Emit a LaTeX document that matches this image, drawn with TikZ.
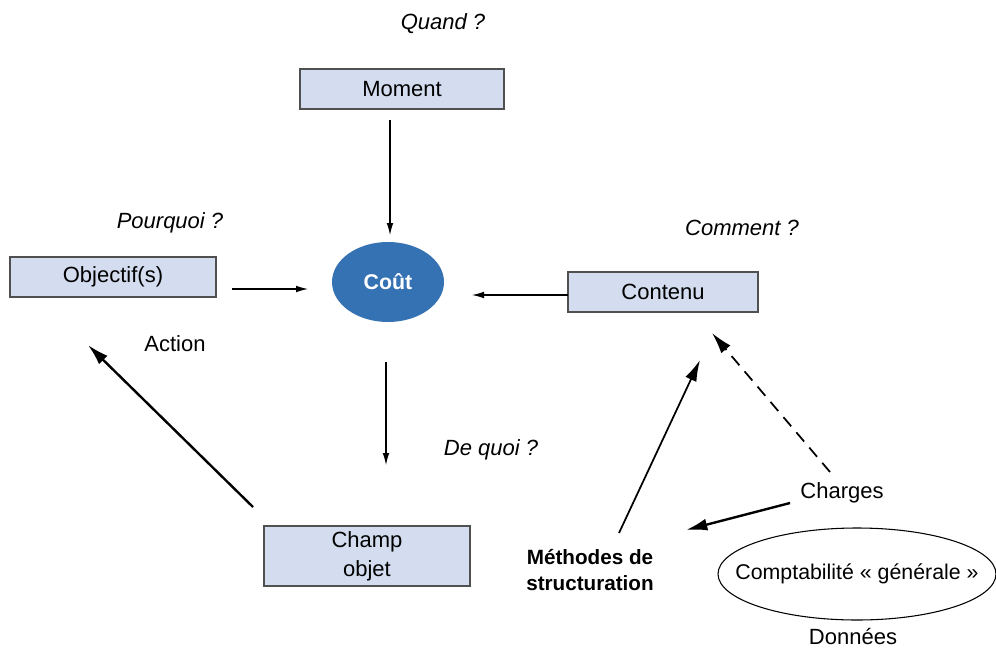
\documentclass[tikz,border=0pt]{standalone}
\usepackage{fontspec}
\setmainfont{Liberation Sans}
\usetikzlibrary{shapes.geometric,arrows.meta}
\definecolor{boxblue}{HTML}{D3DDEF}
\definecolor{boxline}{HTML}{505050}
\definecolor{coutblue}{HTML}{3572B4}
\newcommand{\bloc}[5]{

\node[draw=boxline, line width=1pt, fill=boxblue, minimum width=#3, minimum height=#4, align=center, font=\fontsize{16.5}{22}\selectfont] (#1) at #2 {#5};

}

\begin{document}
\begin{tikzpicture}[x=0.75pt, y=-0.75pt,
	fin/.style={-{Latex[length=9pt,width=5pt]}, line width=0.8pt},
	gros/.style={-{Latex[length=16pt,width=9pt]}, line width=1.8pt},
	lbl/.style={font=\fontsize{16.5}{20}\selectfont}]

	\useasboundingbox (0,0) rectangle (996,650);

	\bloc{moment}{(402,89)}{153pt}{30pt}{Moment}
	\bloc{objectif}{(113,277)}{154.5pt}{30pt}{Objectif(s)}
	\bloc{contenu}{(663,292)}{142.5pt}{30pt}{Contenu}
	\bloc{champ}{(367,556)}{154.5pt}{45pt}{Champ\\objet}

	\node[ellipse, fill=coutblue, minimum width=84pt, minimum height=60pt, text=white, font=\bfseries\fontsize{16}{18}\selectfont] (cout) at (388,282) {Coût};

	\foreach \nom/\pos/\txt in {quand/{(443,24)}/Quand~?, pourquoi/{(170,223)}/Pourquoi~?, comment/{(742,228)}/Comment~?, dequoi/{(491,450)}/De quoi~?}
		\node[lbl, font=\itshape\fontsize{16.5}{20}\selectfont] (q-\nom) at \pos {\txt};
		; %end for \nom

	\node[lbl] (action) at (175,344) {Action};
	\node[lbl] (charges) at (842,493) {Charges};
	\node[lbl] (donnees) at (853,636) {Données};
	\node[align=center, font=\bfseries\fontsize{15.5}{20}\selectfont] (methodes) at (590,570) {Méthodes de\\structuration};
	\node[ellipse, draw, line width=0.8pt, minimum width=208.5pt, minimum height=69pt, inner xsep=-30pt, inner ysep=0pt, font=\fontsize{16}{20}\selectfont] (compta) at (857,574) {Comptabilité «~générale~»};

	% vers le coût
	\draw[fin] ([shift={(-12,31)}]moment.center) -- ([shift={(2,-47)}]cout.center);
	\draw[fin] ([shift={(119,12)}]objectif.center) -- ([shift={(-80,7)}]cout.center);
	\draw[fin] ([shift={(-95,3)}]contenu.center) -- ([shift={(84,13)}]cout.center);
	\draw[fin] ([shift={(-2,80)}]cout.center) -- ([shift={(19,-91)}]champ.center);

	% action, methodes, charges
	\draw[gros] ([shift={(-114,-49)}]champ.center) -- ([shift={(-25,68)}]objectif.center);
	\draw[gros, line width=1.3pt] ([shift={(29,-37)}]methodes.center) -- ([shift={(37,68)}]contenu.center);
	\draw[gros, dash pattern=on 9pt off 6pt, line width=1.3pt] ([shift={(-12,-21)}]charges.center) -- ([shift={(49,41)}]contenu.center);
	\draw[gros] ([shift={(-52,10)}]charges.center) -- ([shift={(96,-40)}]methodes.center);

\end{tikzpicture}
\end{document}
